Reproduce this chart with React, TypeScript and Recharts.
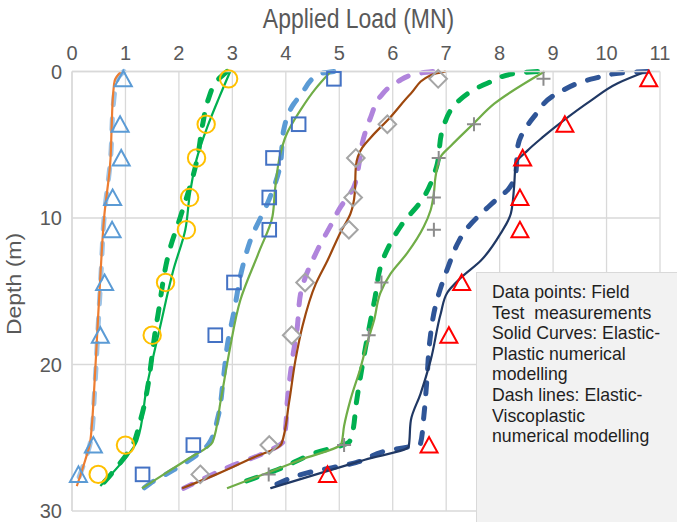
import { ComposedChart, XAxis, YAxis, CartesianGrid, Line, Scatter, Label } from 'recharts';

// Field test depths (same for every pile)
const FIELD_DEPTHS = [0.5, 3.6, 5.9, 8.6, 10.8, 14.4, 18.0, 25.5, 27.5];

// Field test loads (MN), one array per pile
const FIELD_P1 = [0.96, 0.9, 0.92, 0.76, 0.75, 0.61, 0.53, 0.4, 0.12];
const FIELD_P2 = [2.93, 2.51, 2.33, 2.2, 2.14, 1.75, 1.5, 1.0, 0.49];
const FIELD_P3 = [4.9, 4.24, 3.76, 3.69, 3.69, 3.03, 2.68, 2.27, 1.32];
const FIELD_P4 = [6.85, 5.9, 5.31, 5.26, 5.18, 4.36, 4.11, 3.69, 2.4];
const FIELD_P5 = [8.82, 7.52, 6.86, 6.77, 6.77, 5.79, 5.55, 5.09, 3.68];
const FIELD_P6 = [10.79, 9.22, 8.43, 8.38, 8.38, 7.29, 7.05, 6.68, 4.78];

// Elastic-plastic (solid) curves
const EP1_DEPTH = [0, 0.6, 1.5, 4, 6, 10, 14, 18, 22, 24.2, 25.5, 26.5, 28.3];
const EP1_LOAD = [0.92, 0.8, 0.77, 0.74, 0.72, 0.6, 0.53, 0.47, 0.41, 0.37, 0.33, 0.25, 0.09];
const EP2_DEPTH = [0, 1.8, 3.8, 6, 8.5, 10.8, 13.5, 17.4, 21.5, 25.2, 26.6, 28.3];
const EP2_LOAD = [2.96, 2.75, 2.53, 2.33, 2.2, 2.12, 1.9, 1.65, 1.4, 1.22, 0.95, 0.53];
const EP3_DEPTH = [0, 1.2, 2.6, 4.4, 5.6, 8, 9.9, 12.3, 15.6, 19, 22.5, 25.3, 26.4, 27.4, 28.45];
const EP3_LOAD = [4.84, 4.55, 4.28, 4.0, 3.9, 3.8, 3.75, 3.5, 3.15, 2.95, 2.78, 2.63, 2.19, 1.76, 1.31];
const EP4_DEPTH = [0, 0.25, 1.5, 3.1, 4.5, 5.2, 6.5, 8.3, 9.7, 11, 12.9, 14.5, 17.4, 19.7, 22.6, 25.4, 26.5, 27.5, 28.45];
const EP4_LOAD = [6.99, 6.71, 6.34, 5.96, 5.59, 5.43, 5.31, 5.29, 5.21, 5.02, 4.78, 4.56, 4.31, 4.18, 4.06, 3.92, 3.3, 2.7, 2.06];
const EP5_DEPTH = [0, 2.2, 3.6, 5.1, 5.8, 7.2, 8.3, 9.45, 10.6, 12.4, 13.8, 15.1, 17, 18.55, 20.2, 22.4, 24.2, 25.4, 26.5, 27.4, 28.45];
const EP5_LOAD = [8.84, 7.9, 7.5, 7.08, 6.9, 6.8, 6.77, 6.71, 6.58, 6.27, 5.96, 5.77, 5.65, 5.52, 5.4, 5.21, 5.09, 5.04, 4.28, 3.65, 2.9];
const EP6_DEPTH = [0, 0.8, 2.0, 3.3, 4.5, 5.4, 6.3, 7.9, 9.7, 11.05, 12.9, 14.1, 15.1, 16.5, 19.7, 22, 23.8, 25.6, 26.5, 27.4, 28.45];
const EP6_LOAD = [10.74, 10.21, 9.7, 9.21, 8.8, 8.52, 8.3, 8.27, 8.21, 8.02, 7.65, 7.27, 7.02, 6.9, 6.71, 6.52, 6.34, 6.3, 5.48, 4.66, 3.71];

// Elastic-viscoplastic (dashed) curves
const EVP1_DEPTH = [0, 0.5, 2, 6, 10, 14, 18, 22, 25, 27, 28.4];
const EVP1_LOAD = [0.97, 0.85, 0.78, 0.72, 0.6, 0.54, 0.48, 0.42, 0.36, 0.2, 0.06];
const EVP2_DEPTH = [0, 0.6, 1.9, 3.5, 6, 9.9, 12, 17, 23.8, 25.6, 27, 28.45];
const EVP2_LOAD = [2.9, 2.72, 2.55, 2.45, 2.34, 2.03, 1.84, 1.59, 1.28, 1.12, 0.84, 0.5];
const EVP3_DEPTH = [0, 0.17, 1.6, 2.2, 4.0, 6.5, 8.8, 11.4, 13.5, 16.4, 18.6, 21, 23.6, 25.4, 27.2, 28.1, 28.45];
const EVP3_LOAD = [4.9, 4.62, 4.28, 4.15, 3.96, 3.89, 3.68, 3.35, 3.18, 3.03, 2.91, 2.83, 2.73, 2.56, 1.9, 1.47, 1.34];
const EVP4_DEPTH = [0, 0.15, 0.7, 1.7, 3.1, 4.9, 6.3, 7.9, 9.45, 10.3, 12.2, 15.1, 17.6, 19.7, 22.4, 24.5, 25.2, 26.1, 26.85, 27.9, 28.45];
const EVP4_LOAD = [6.75, 6.45, 6.09, 5.77, 5.59, 5.43, 5.37, 5.27, 4.99, 4.87, 4.59, 4.28, 4.21, 4.12, 4.03, 3.99, 3.96, 3.56, 3.03, 2.4, 2.09];
const EVP5_DEPTH = [0, 0.1, 0.8, 1.95, 4.0, 6.5, 8.7, 10.5, 12.9, 15.6, 20.1, 22.6, 24.9, 25.3, 26.0, 27.2, 28.2];
const EVP5_LOAD = [8.71, 8.33, 7.77, 7.25, 6.93, 6.82, 6.56, 6.16, 5.81, 5.66, 5.43, 5.32, 5.23, 5.18, 4.58, 3.83, 3.06];
const EVP6_DEPTH = [0, 0.1, 0.47, 1.5, 3.1, 5.1, 7.0, 8.0, 9.0, 11.0, 11.7, 13.4, 16.0, 18.5, 21.0, 23.6, 25.4, 25.9, 26.7, 27.4, 28.2];
const EVP6_LOAD = [10.77, 10.27, 9.77, 9.08, 8.64, 8.34, 8.3, 8.17, 7.86, 7.33, 7.22, 7.03, 6.8, 6.69, 6.64, 6.58, 6.52, 5.87, 5.31, 4.4, 3.81];

const X_TICKS = [0, 1, 2, 3, 4, 5, 6, 7, 8, 9, 10, 11];
const Y_TICKS = [0, 10, 20, 30];

const NOTE_LINES = [
  'Data points: Field',
  'Test  measurements',
  'Solid Curves: Elastic-',
  'Plastic numerical',
  'modelling',
  'Dash lines: Elastic-',
  'Viscoplastic',
  'numerical modelling',
];

const zip = (loads: number[], depths: number[]) => loads.map((x, i) => ({ x, y: depths[i] }));

const FONT = "'Liberation Sans', Arial, sans-serif";
const AXIS_GREY = '#595959';
const GRID = '#d9d9d9';

type MarkerProps = { cx?: number; cy?: number };

const makeTriangle = (color: string) => ({ cx = 0, cy = 0 }: MarkerProps) => (
  <polygon
    points={`${cx},${cy - 8} ${cx - 8.5},${cy + 7.5} ${cx + 8.5},${cy + 7.5}`}
    fill="none"
    stroke={color}
    strokeWidth={2}
  />
);
const CircleMarker = ({ cx = 0, cy = 0 }: MarkerProps) => (
  <circle cx={cx} cy={cy} r={8.7} fill="none" stroke="#FFC000" strokeWidth={2} />
);
const SquareMarker = ({ cx = 0, cy = 0 }: MarkerProps) => (
  <rect x={cx - 6.8} y={cy - 6.8} width={13.6} height={13.6} fill="none" stroke="#4472C4" strokeWidth={2} />
);
const DiamondMarker = ({ cx = 0, cy = 0 }: MarkerProps) => (
  <polygon
    points={`${cx},${cy - 8.8} ${cx + 8.8},${cy} ${cx},${cy + 8.8} ${cx - 8.8},${cy}`}
    fill="none"
    stroke="#A5A5A5"
    strokeWidth={2}
  />
);
const CrossMarker = ({ cx = 0, cy = 0 }: MarkerProps) => (
  <path d={`M${cx - 7},${cy}H${cx + 7}M${cx},${cy - 7}V${cy + 7}`} stroke="#8C8C8C" strokeWidth={2} fill="none" />
);

// one entry per pile: field markers, solid (EP) curve, dashed (EVP) curve
const PILES = [
  { key: 'p1', field: FIELD_P1, shape: makeTriangle('#5B9BD5'), ep: zip(EP1_LOAD, EP1_DEPTH), epColor: '#ED7D31', evp: zip(EVP1_LOAD, EVP1_DEPTH), evpColor: '#9DC3E6' },
  { key: 'p2', field: FIELD_P2, shape: CircleMarker, ep: zip(EP2_LOAD, EP2_DEPTH), epColor: '#00B050', evp: zip(EVP2_LOAD, EVP2_DEPTH), evpColor: '#00B050' },
  { key: 'p3', field: FIELD_P3, shape: SquareMarker, ep: zip(EP3_LOAD, EP3_DEPTH), epColor: '#70AD47', evp: zip(EVP3_LOAD, EVP3_DEPTH), evpColor: '#5B9BD5' },
  { key: 'p4', field: FIELD_P4, shape: DiamondMarker, ep: zip(EP4_LOAD, EP4_DEPTH), epColor: '#9E480E', evp: zip(EVP4_LOAD, EVP4_DEPTH), evpColor: '#B084DC' },
  { key: 'p5', field: FIELD_P5, shape: CrossMarker, ep: zip(EP5_LOAD, EP5_DEPTH), epColor: '#70AD47', evp: zip(EVP5_LOAD, EVP5_DEPTH), evpColor: '#00B050' },
  { key: 'p6', field: FIELD_P6, shape: makeTriangle('#FF0000'), ep: zip(EP6_LOAD, EP6_DEPTH), epColor: '#203864', evp: zip(EVP6_LOAD, EVP6_DEPTH), evpColor: '#2F5597' },
];

const XTitle = () => (
  <text transform="translate(358.5 28.3) scale(0.85 1)" textAnchor="middle" fontSize={27} fill={AXIS_GREY} fontFamily={FONT}>
    Applied Load (MN)
  </text>
);
const YTitle = () => (
  <text transform="translate(21 284) scale(0.85 1) rotate(-90)" textAnchor="middle" fontSize={23} fill={AXIS_GREY} fontFamily={FONT}>
    Depth (m)
  </text>
);

export default function App() {
  return (
    <div style={{ position: 'absolute', left: 0, top: 0, width: 677, height: 522, overflow: 'hidden', background: '#fff', fontFamily: FONT }}>
      <ComposedChart width={677} height={522} margin={{ top: 0, right: 17, bottom: 11, left: 0 }}>
        <CartesianGrid stroke={GRID} strokeWidth={1.3} />
        <XAxis
          type="number"
          dataKey="x"
          orientation="top"
          domain={[0, 11]}
          ticks={X_TICKS}
          height={71.5}
          axisLine={{ stroke: GRID, strokeWidth: 1.3 }}
          tickLine={false}
          tickMargin={6}
          tick={{ fill: AXIS_GREY, fontSize: 20, fontFamily: FONT }}
          interval={0}
        >
          <Label content={XTitle} />
        </XAxis>
        <YAxis
          type="number"
          dataKey="y"
          reversed
          domain={[0, 30]}
          ticks={Y_TICKS}
          width={72}
          axisLine={{ stroke: GRID, strokeWidth: 1.3 }}
          tickLine={false}
          tickMargin={4}
          tick={{ fill: AXIS_GREY, fontSize: 20, fontFamily: FONT }}
          interval={0}
        >
          <Label content={YTitle} />
        </YAxis>
        {PILES.map((p) => (
          <Line
            key={`evp-${p.key}`}
            data={p.evp}
            dataKey="y"
            type="monotoneY"
            stroke={p.evpColor}
            strokeWidth={5}
            strokeDasharray="11 14"
            strokeLinecap="round"
            dot={false}
            activeDot={false}
            isAnimationActive={false}
          />
        ))}
        {PILES.map((p) => (
          <Line
            key={`ep-${p.key}`}
            data={p.ep}
            dataKey="y"
            type="monotoneY"
            stroke={p.epColor}
            strokeWidth={2.2}
            dot={false}
            activeDot={false}
            isAnimationActive={false}
          />
        ))}
        {PILES.map((p) => (
          <Scatter
            key={`field-${p.key}`}
            data={zip(p.field, FIELD_DEPTHS)}
            dataKey="y"
            shape={p.shape}
            isAnimationActive={false}
          />
        ))}
      </ComposedChart>
      <div
        style={{
          position: 'absolute',
          left: 476,
          top: 272,
          width: 201,
          height: 250,
          boxSizing: 'border-box',
          background: '#f2f2f2',
          borderLeft: '1px solid #d9d9d9',
          borderTop: '1px solid #d9d9d9',
          padding: '9px 0 0 15px',
          fontSize: 17.7,
          lineHeight: '20.6px',
          color: '#1f1f1f',
          whiteSpace: 'pre',
        }}
      >
        {NOTE_LINES.map((line) => (
          <div key={line}>{line}</div>
        ))}
      </div>
    </div>
  );
}
